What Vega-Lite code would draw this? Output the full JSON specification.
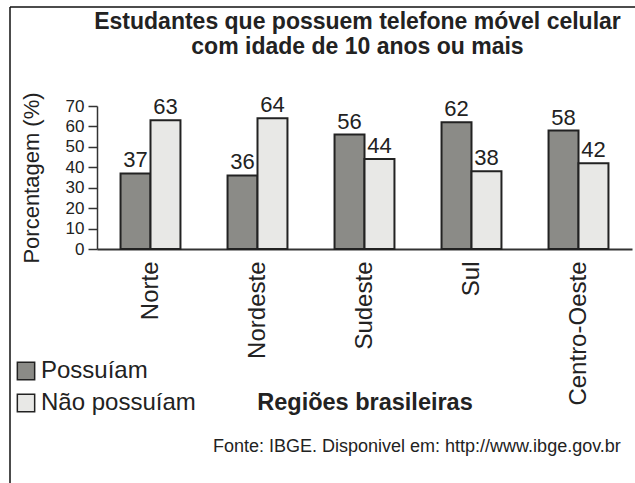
{
  "$schema": "https://vega.github.io/schema/vega-lite/v6.json",
  "autosize": "none",
  "width": 535,
  "height": 143,
  "padding": {"left": 97, "top": 106, "right": 3, "bottom": 234},
  "background": "white",
  "config": {
    "font": "Liberation Sans",
    "view": {"stroke": null},
    "axis": {"labelFont": "Liberation Sans", "titleFont": "Liberation Sans", "labelColor": "#222", "titleColor": "#222", "domainColor": "#333", "tickColor": "#333"}
  },
  "title": {
    "text": ["Estudantes que possuem telefone móvel celular", "com idade de 10 anos ou mais"],
    "fontSize": 23,
    "fontWeight": "bold",
    "font": "Liberation Sans",
    "color": "#222",
    "lineHeight": 25,
    "anchor": "middle",
    "frame": "group",
    "dx": -7,
    "offset": -53
  },
  "data": {
    "values": [
      {"regiao": "Norte", "grupo": "Possuíam", "valor": 37},
      {"regiao": "Norte", "grupo": "Não possuíam", "valor": 63},
      {"regiao": "Nordeste", "grupo": "Possuíam", "valor": 36},
      {"regiao": "Nordeste", "grupo": "Não possuíam", "valor": 64},
      {"regiao": "Sudeste", "grupo": "Possuíam", "valor": 56},
      {"regiao": "Sudeste", "grupo": "Não possuíam", "valor": 44},
      {"regiao": "Sul", "grupo": "Possuíam", "valor": 62},
      {"regiao": "Sul", "grupo": "Não possuíam", "valor": 38},
      {"regiao": "Centro-Oeste", "grupo": "Possuíam", "valor": 58},
      {"regiao": "Centro-Oeste", "grupo": "Não possuíam", "valor": 42}
    ]
  },
  "encoding": {
    "x": {
      "field": "regiao",
      "type": "nominal",
      "sort": ["Norte", "Nordeste", "Sudeste", "Sul", "Centro-Oeste"],
      "scale": {"paddingInner": 0.44, "paddingOuter": 0.22},
      "axis": {
        "title": "Regiões brasileiras",
        "titleFontSize": 23.5,
        "titleFontWeight": "bold",
        "titleBaseline": "middle",
        "titleY": 153,
        "labelAngle": -90,
        "labelFontSize": 24,
        "labelPadding": 12,
        "ticks": false,
        "domainWidth": 2
      }
    },
    "xOffset": {"field": "grupo", "type": "nominal", "sort": ["Possuíam", "Não possuíam"]},
    "y": {
      "field": "valor",
      "type": "quantitative",
      "scale": {"domain": [0, 70]},
      "axis": {
        "title": "Porcentagem (%)",
        "titleFontSize": 22,
        "titleFontWeight": "normal",
        "titlePadding": 22,
        "labelFontSize": 17,
        "labelPadding": 4,
        "values": [0, 10, 20, 30, 40, 50, 60, 70],
        "tickSize": 9,
        "grid": false,
        "domainWidth": 1.5,
        "tickWidth": 1.5
      }
    }
  },
  "layer": [
    {
      "mark": {"type": "bar", "stroke": "#222", "strokeWidth": 2},
      "encoding": {
        "color": {
          "field": "grupo",
          "type": "nominal",
          "scale": {"domain": ["Possuíam", "Não possuíam"], "range": ["#8b8b87", "#e8e8e6"]},
          "legend": {
            "title": null,
            "orient": "none",
            "legendX": -83,
            "legendY": 253,
            "symbolType": "square",
            "symbolSize": 300,
            "symbolStrokeColor": "#222",
            "symbolStrokeWidth": 1.5,
            "labelFontSize": 24,
            "labelFont": "Liberation Sans",
            "labelColor": "#222",
            "rowPadding": 8,
            "labelOffset": 3
          }
        }
      }
    },
    {
      "mark": {"type": "text", "baseline": "bottom", "dy": -1, "fontSize": 22, "font": "Liberation Sans", "color": "#222"},
      "encoding": {"text": {"field": "valor", "type": "quantitative"}}
    },
    {
      "data": {"values": [{"fonte": "Fonte: IBGE. Disponivel em: http://www.ibge.gov.br"}]},
      "mark": {"type": "text", "align": "left", "baseline": "middle", "fontSize": 18, "font": "Liberation Sans", "color": "#222"},
      "encoding": {
        "x": {"value": 116},
        "y": {"value": 341},
        "text": {"field": "fonte"},
        "xOffset": null
      }
    },
    {
      "data": {"values": [{"b": 1}]},
      "mark": {"type": "rule", "color": "#111", "strokeWidth": 1.5},
      "encoding": {
        "x": {"value": -87},
        "y": {"value": -99},
        "y2": {"value": 377},
        "xOffset": null
      }
    },
    {
      "data": {"values": [{"b": 1}]},
      "mark": {"type": "rule", "color": "#111", "strokeWidth": 1.5},
      "encoding": {
        "x": {"value": -87},
        "x2": {"value": 538},
        "y": {"value": -99},
        "xOffset": null
      }
    }
  ]
}
